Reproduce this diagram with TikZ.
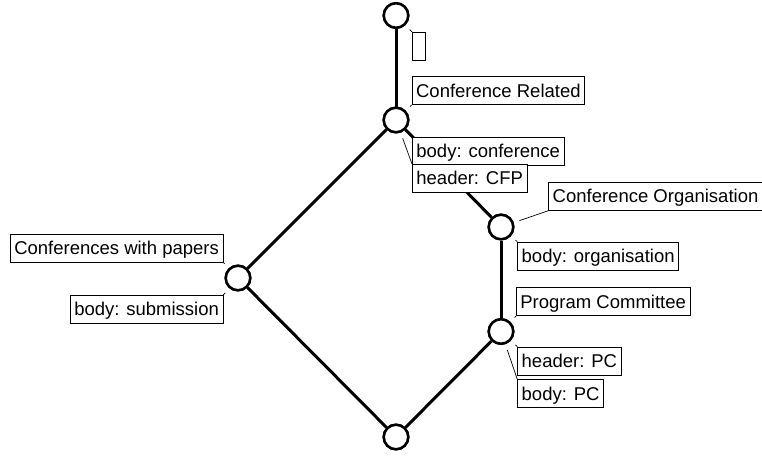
\documentclass[tikz,border=0pt]{standalone}
\usepackage{fontspec}
\setmainfont{Liberation Sans}
\usetikzlibrary{calc}
\tikzset{
  concept/.style={circle,draw,line width=2.5pt,fill=white,minimum size=24.5pt,inner sep=0pt},
  edge/.style={line width=3pt},
  lbl/.style={draw,line width=0.8pt,fill=white,font=\fontsize{18.5}{20}\selectfont,
    inner xsep=4pt,inner ysep=5.5pt,text height=15pt,text depth=2pt},
  leader/.style={line width=0.7pt}
}
\begin{document}
\begin{tikzpicture}[x=1pt,y=-1pt]
\useasboundingbox (0,0) rectangle (762,455);
% concept nodes (placed first so their names exist)
\node[concept] (top) at (396,15.5) {};
\node[concept] (cr) at (396,120) {};
\node[concept] (co) at (501,227) {};
\node[concept] (pc) at (501,331.5) {};
\node[concept] (cwp) at (238,278) {};
\node[concept] (bot) at (396,437) {};
% edges
\draw[edge] (top) -- (cr);
\draw[edge] (cr) -- (cwp);
\draw[edge] (cr) -- (co);
\draw[edge] (co) -- (pc);
\draw[edge] (cwp) -- (bot);
\draw[edge] (pc) -- (bot);
% redraw circles above the edges
\node[concept] at (top) {};
\node[concept] at (cr) {};
\node[concept] at (co) {};
\node[concept] at (pc) {};
\node[concept] at (cwp) {};
\node[concept] at (bot) {};
% labels
\node[draw,line width=0.8pt,minimum width=13pt,minimum height=28pt,inner sep=0pt,anchor=north west] (l0) at (412,32) {};
\node[lbl,anchor=south west] (lcr) at (411.7,105) {Conference Related};
\node[lbl,anchor=north west] (lbc) at (412,137) {body: conference};
\node[lbl,anchor=north west] (lhc) at (412,164) {header: CFP};
\node[lbl,anchor=south west] (lco) at (548.3,210.7) {Conference Organisation};
\node[lbl,anchor=north west] (lbo) at (517.3,241.7) {body: organisation};
\node[lbl,anchor=south west] (lpc) at (516,316) {Program Committee};
\node[lbl,anchor=north west] (lhp) at (517.3,346.7) {header: PC};
\node[lbl,anchor=north west] (lbp) at (517.3,379.3) {body: PC};
\node[lbl,anchor=south east] (lcw) at (223.3,262.3) {Conferences with papers};
\node[lbl,anchor=north east] (lbs) at (223.3,295) {body: submission};
% leaders
\draw[leader] (l0.north west) -- ($(top)!19.5pt!(l0.north west)$);
\draw[leader] (lcr.south west) -- ($(cr)!19.5pt!(lcr.south west)$);
\draw[leader] (lbc.north west) -- ($(cr)!19.5pt!(lbc.north west)$);
\draw[leader] (lhc.north west) -- ($(cr)!19.5pt!(lhc.north west)$);
\draw[leader] (lco.south west) -- ($(co)!19.5pt!(lco.south west)$);
\draw[leader] (lbo.north west) -- ($(co)!19.5pt!(lbo.north west)$);
\draw[leader] (lpc.south west) -- ($(pc)!19.5pt!(lpc.south west)$);
\draw[leader] (lhp.north west) -- ($(pc)!19.5pt!(lhp.north west)$);
\draw[leader] (lbp.north west) -- ($(pc)!19.5pt!(lbp.north west)$);
\draw[leader] (lcw.south east) -- ($(cwp)!19.5pt!(lcw.south east)$);
\draw[leader] (lbs.north east) -- ($(cwp)!19.5pt!(lbs.north east)$);
\end{tikzpicture}
\end{document}
